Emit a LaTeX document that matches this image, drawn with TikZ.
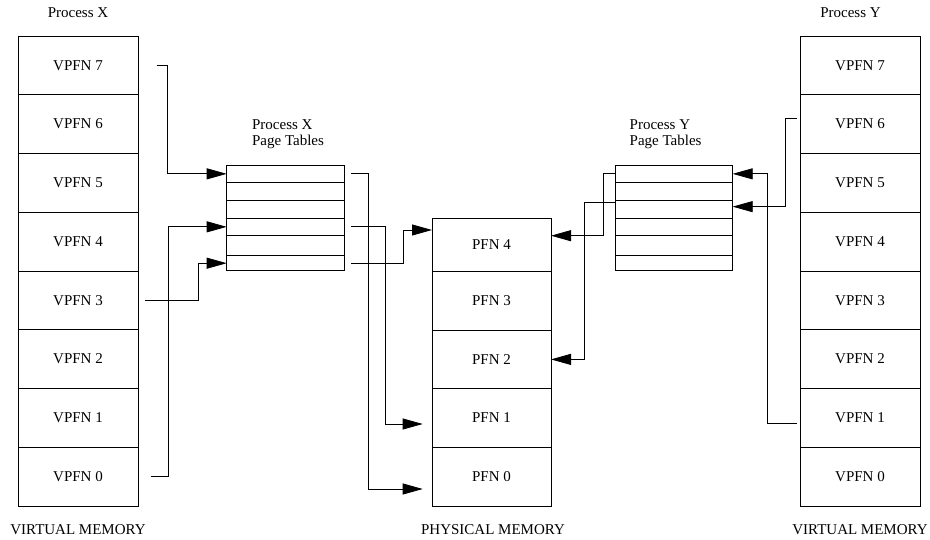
\documentclass[tikz,border=0pt]{standalone}
\usepackage{fontspec}
\setmainfont{Liberation Serif}
\usetikzlibrary{arrows.meta}

\begin{document}
\begin{tikzpicture}[line width=0.8bp,
						font=\fontsize{15bp}{16bp}\selectfont,
						cell/.style={draw,inner sep=0pt,outer sep=0pt,
						minimum width=120bp,minimum height=58.75bp},
						ptrow/.style={draw,inner sep=0pt,outer sep=0pt,
						minimum width=117.6bp},
						ptr/.style={-{Triangle[length=20bp,width=11bp]}}]

		\useasboundingbox (0bp,0bp) rectangle (930bp,540bp);

		\node (procx) at (78bp,527bp) {Process X};
		\node (procy) at (850.5bp,527bp) {Process Y};

		% virtual memory of process X
		\node[cell] (vx7) at (78bp,474.63bp) {VPFN 7};
		\node[cell] (vx6) at (78bp,415.88bp) {VPFN 6};
		\node[cell] (vx5) at (78bp,357.13bp) {VPFN 5};
		\node[cell] (vx4) at (78bp,298.38bp) {VPFN 4};
		\node[cell] (vx3) at (78bp,239.63bp) {VPFN 3};
		\node[cell] (vx2) at (78bp,180.88bp) {VPFN 2};
		\node[cell] (vx1) at (78bp,122.13bp) {VPFN 1};
		\node[cell] (vx0) at (78bp,63.38bp) {VPFN 0};

		% virtual memory of process Y
		\node[cell] (vy7) at (860bp,474.63bp) {VPFN 7};
		\node[cell] (vy6) at (860bp,415.88bp) {VPFN 6};
		\node[cell] (vy5) at (860bp,357.13bp) {VPFN 5};
		\node[cell] (vy4) at (860bp,298.38bp) {VPFN 4};
		\node[cell] (vy3) at (860bp,239.63bp) {VPFN 3};
		\node[cell] (vy2) at (860bp,180.88bp) {VPFN 2};
		\node[cell] (vy1) at (860bp,122.13bp) {VPFN 1};
		\node[cell] (vy0) at (860bp,63.38bp) {VPFN 0};

		% physical memory
		\node[cell,minimum width=119bp,minimum height=53.2bp] (pfn4) at (491.5bp,295.1bp) {PFN 4};
		\node[cell,minimum width=119bp,minimum height=58.6bp] (pfn3) at (491.5bp,239.2bp) {PFN 3};
		\node[cell,minimum width=119bp,minimum height=58.6bp] (pfn2) at (491.5bp,180.6bp) {PFN 2};
		\node[cell,minimum width=119bp,minimum height=58.6bp] (pfn1) at (491.5bp,122.0bp) {PFN 1};
		\node[cell,minimum width=119bp,minimum height=58.6bp] (pfn0) at (491.5bp,63.35bp) {PFN 0};

		% page tables
		\node[align=left,anchor=west,inner sep=0pt] (ptxlabel) at (251.7bp,405.5bp) {Process X\\Page Tables};
		\node[ptrow,minimum height=17.7bp] (ptx0) at (285.5bp,366.15bp) {};
		\node[ptrow,minimum height=17.6bp] (ptx1) at (285.5bp,348.5bp) {};
		\node[ptrow,minimum height=17.7bp] (ptx2) at (285.5bp,330.85bp) {};
		\node[ptrow,minimum height=17.7bp] (ptx3) at (285.5bp,313.15bp) {};
		\node[ptrow,minimum height=20bp] (ptx4) at (285.5bp,294.3bp) {};
		\node[ptrow,minimum height=15bp] (ptx5) at (285.5bp,276.8bp) {};

		\node[align=left,anchor=west,inner sep=0pt] (ptylabel) at (629.3bp,405.5bp) {Process Y\\Page Tables};
		\node[ptrow,minimum height=17.7bp] (pty0) at (673.85bp,366.15bp) {};
		\node[ptrow,minimum height=17.6bp] (pty1) at (673.85bp,348.5bp) {};
		\node[ptrow,minimum height=17.7bp] (pty2) at (673.85bp,330.85bp) {};
		\node[ptrow,minimum height=17.7bp] (pty3) at (673.85bp,313.15bp) {};
		\node[ptrow,minimum height=20bp] (pty4) at (673.85bp,294.3bp) {};
		\node[ptrow,minimum height=15bp] (pty5) at (673.85bp,276.8bp) {};

		\node (vmx) at (78bp,10bp) {VIRTUAL MEMORY};
		\node (pm) at (493bp,10bp) {PHYSICAL MEMORY};
		\node (vmy) at (860bp,10bp) {VIRTUAL MEMORY};

		% free ends of the connectors
		\coordinate (x7out) at (156.7bp,475bp);
		\coordinate (x0out) at (150.7bp,63.3bp);
		\coordinate (x3out) at (145bp,239.3bp);
		\coordinate (p0in) at (422.7bp,51bp);
		\coordinate (p1in) at (422.7bp,116bp);
		\coordinate (y1out) at (796.7bp,116.7bp);
		\coordinate (y6out) at (796.7bp,421.7bp);

		\draw[ptr] (x7out) -- ++(11bp,0) |- (ptx0.west);
		\draw[ptr] (x0out) -- ++(17.6bp,0) |- (ptx3.west);
		\draw[ptr] (x3out) -- ++(53.3bp,0) |- (ptx5.west);

		\draw[ptr] ([xshift=6.7bp]ptx0.east) -- ++(17.3bp,0) |- (p0in);
		\draw[ptr] ([xshift=6.7bp]ptx3.east) -- ++(34.7bp,0) |- (p1in);
		\draw[ptr] ([xshift=6.7bp]ptx5.east) -- ++(52.3bp,0) |- ([yshift=14.9bp]pfn4.west);

		\draw[ptr] (pty0.west) -- ++(-11.7bp,0) |- ([yshift=9.2bp]pfn4.east);
		\draw[ptr] ([yshift=6.5bp]pty2.west) -- ++(-31bp,0) |- (pfn2.east);

		\draw[ptr] (y1out) -- ++(-29bp,0) |- (pty0.east);
		\draw[ptr] (y6out) -- ++(-11bp,0) |- ([yshift=2.5bp]pty2.east);

	\end{tikzpicture}
\end{document}
